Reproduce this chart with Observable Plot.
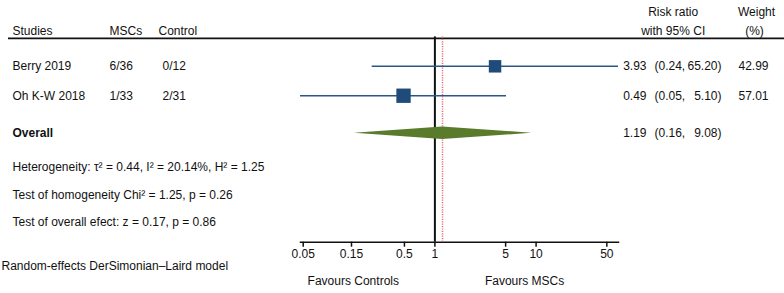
<!DOCTYPE html>
<html><head><meta charset="utf-8">
<script src="https://cdn.jsdelivr.net/npm/d3@7"></script>
<script src="https://cdn.jsdelivr.net/npm/@observablehq/plot@0.6"></script>
<style>body{margin:0;background:#fff} svg{display:block}</style>
</head><body><div id="chart"></div>
<script>
// ---- data ----
const studies = ["Berry 2019", "Oh K-W 2018"];
const mscEvents = ["6/36", "1/33"];
const controlEvents = ["0/12", "2/31"];
const riskRatio = [3.93, 0.49];
const ciLow = [0.24, 0.047];
const ciHigh = [65.20, 5.10];
const weights = [42.99, 57.01];
const overallLabel = "Overall";
const overallRR = 1.19, overallLow = 0.16, overallHigh = 9.08;
const tickValues = [0.05, 0.15, 0.5, 1, 5, 10, 50];
const tickLabels = ["0.05", "0.15", "0.5", "1", "5", "10", "50"];
const statLines = [
  "Heterogeneity: τ² = 0.44, I² = 20.14%, H² = 1.25",
  "Test of homogeneity Chi² = 1.25, p = 0.26",
  "Test of overall efect: z = 0.17, p = 0.86"
];
const modelNote = "Random-effects DerSimonian–Laird model";
const favourLeft = "Favours Controls", favourRight = "Favours MSCs";

// ---- layout ----
const W = 784, H = 293, ML = 300, MR = 166, MT = 36.4, MB = 51.3;
const overallRow = 3.275, diamondHalf = 0.215;
const FS = 12;
const font = "'Liberation Sans', Arial, Helvetica, sans-serif";
const navy = "#1f4b7b", lineBlue = "#2a5886", green = "#5a7a2c", red = "#e8707a";

const rows = studies.map((s, i) => ({
  study: s, msc: mscEvents[i], control: controlEvents[i],
  rr: riskRatio[i], lo: ciLow[i], hi: ciHigh[i], w: weights[i], row: i + 1
}));
const overall = [{study: overallLabel, rr: overallRR, lo: overallLow, hi: overallHigh, row: overallRow}];
const diamond = [
  {y: overallRow - diamondHalf, x1: overallRR, x2: overallRR},
  {y: overallRow, x1: overallLow, x2: overallHigh},
  {y: overallRow + diamondHalf, x1: overallRR, x2: overallRR}
];
const ticks = tickValues.map((v, i) => ({v, label: tickLabels[i]}));
const f2 = d => d.toFixed(2);
const all = rows.concat(overall);
const common = {fontSize: FS, fill: "#111"};

const chart = Plot.plot({
  width: W, height: H,
  marginLeft: ML, marginRight: MR, marginTop: MT, marginBottom: MB,
  style: {fontFamily: font, fontSize: FS + "px", background: "#fff", color: "#111"},
  x: {type: "log", domain: d3.extent(ciLow.concat(ciHigh)), axis: null},
  y: {domain: [0, 6.98], reverse: true, axis: null},
  r: {range: [0, 8.1]},
  marks: [
    // header rule
    Plot.ruleY([0], {dy: 1.5, insetLeft: -292, insetRight: -166, stroke: "#111", strokeWidth: 1.6}),
    // axis
    Plot.frame({anchor: "bottom", stroke: "#111", strokeWidth: 1.5}),
    Plot.axisX(tickValues, {text: null, tickSize: 5, stroke: "#111", strokeWidth: 1.5}),
    Plot.text(ticks, {x: "v", text: "label", frameAnchor: "bottom", dy: 15.5, ...common}),
    // reference lines
    Plot.ruleX([1], {stroke: "#111", strokeWidth: 2}),
    Plot.ruleX([overallRR], {stroke: red, strokeWidth: 1.5, strokeDasharray: "1.2,1.2"}),
    // CIs and squares
    Plot.ruleY(rows, {y: "row", x1: "lo", x2: "hi", stroke: lineBlue, strokeWidth: 1.6}),
    Plot.dot(rows, {x: "rr", y: "row", r: "w", symbol: "square", fill: navy, stroke: null}),
    Plot.areaX(diamond, {y: "y", x1: "x1", x2: "x2", fill: green}),
    // left columns
    Plot.text(rows, {y: "row", text: "study", frameAnchor: "left", textAnchor: "start", dx: -288, ...common}),
    Plot.text(rows, {y: "row", text: "msc", frameAnchor: "left", textAnchor: "start", dx: -191, ...common}),
    Plot.text(rows, {y: "row", text: "control", frameAnchor: "left", textAnchor: "start", dx: -138, ...common}),
    Plot.text(overall, {y: "row", text: "study", frameAnchor: "left", textAnchor: "start", dx: -288, fontWeight: "bold", ...common}),
    // right columns
    Plot.text(all, {y: "row", text: d => f2(d.rr), frameAnchor: "right", textAnchor: "end", dx: 28, ...common}),
    Plot.text(all, {y: "row", text: d => "(" + f2(d.lo) + ",", frameAnchor: "right", textAnchor: "start", dx: 36, ...common}),
    Plot.text(all, {y: "row", text: d => f2(d.hi) + ")", frameAnchor: "right", textAnchor: "end", dx: 103, ...common}),
    Plot.text(rows, {y: "row", text: d => f2(d.w), frameAnchor: "right", textAnchor: "end", dx: 150, ...common}),
    // headers
    Plot.text(["Studies"], {frameAnchor: "top-left", textAnchor: "start", dx: -288, dy: -10.4, ...common}),
    Plot.text(["MSCs"], {frameAnchor: "top-left", textAnchor: "start", dx: -191, dy: -10.4, ...common}),
    Plot.text(["Control"], {frameAnchor: "top-left", textAnchor: "start", dx: -142, dy: -10.4, ...common}),
    Plot.text(["Risk ratio"], {frameAnchor: "top-right", textAnchor: "middle", dx: 54.7, dy: -29.7, ...common}),
    Plot.text(["with 95% CI"], {frameAnchor: "top-right", textAnchor: "middle", dx: 54.7, dy: -10.4, ...common}),
    Plot.text(["Weight"], {frameAnchor: "top-right", textAnchor: "middle", dx: 138, dy: -29.7, ...common}),
    Plot.text(["(%)"], {frameAnchor: "top-right", textAnchor: "middle", dx: 136, dy: -10.4, ...common}),
    // statistics
    Plot.text([statLines.join("\n")], {frameAnchor: "left", textAnchor: "start", lineAnchor: "middle",
      lineHeight: 27.5 / FS, dx: -288, dy: 50.5, ...common}),
    Plot.text([modelNote], {frameAnchor: "bottom-left", textAnchor: "start", dx: -299, dy: 28, ...common}),
    Plot.text([favourLeft], {x: [1], frameAnchor: "bottom", textAnchor: "middle", dx: -81.6, dy: 43, ...common}),
    Plot.text([favourRight], {x: [1], frameAnchor: "bottom", textAnchor: "middle", dx: 89.7, dy: 43, ...common})
  ]
});
document.getElementById("chart").appendChild(chart);
</script>
</body></html>
